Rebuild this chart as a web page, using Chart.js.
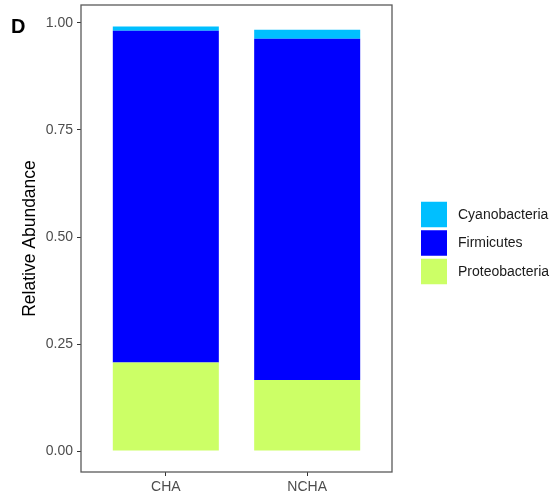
<!DOCTYPE html>
<html>
<head>
<meta charset="utf-8">
<script src="https://cdn.jsdelivr.net/npm/chart.js@4.4.1/dist/chart.umd.min.js"></script>
<style>
  html, body { margin: 0; padding: 0; background: #fff; }
  #chart-container { position: relative; width: 554px; height: 496px; }
</style>
</head>
<body>
<div id="chart-container"><canvas id="bar-chart"></canvas></div>
<script>
// samples on the x axis
var samples = ['CHA', 'NCHA'];

// relative abundance per phylum, one value per sample
var proteobacteria = [0.207, 0.166];
var firmicutes = [0.775, 0.797];
var cyanobacteria = [0.010, 0.021];

var yTicks = [0, 0.25, 0.5, 0.75, 1];

var FONT = "'Liberation Sans', Arial, sans-serif";

function toPoints(values) {
    return values.map(function (v, i) { return { x: i + 1, y: v }; });
}

// frame around the panel, legend on the right and the panel tag
var decorations = {
    id: 'decorations',
    afterDraw: function (chart) {
        var ctx = chart.ctx;
        var area = chart.chartArea;
        ctx.save();

        ctx.strokeStyle = '#5a5a5a';
        ctx.lineWidth = 1.3;
        ctx.strokeRect(area.left, area.top, area.right - area.left, area.bottom - area.top);

        // legend, top entry first (reverse of stacking order)
        var sets = chart.data.datasets.slice().reverse();
        var rowH = 28.5;
        var top = (area.top + area.bottom) / 2 + 4.5 - sets.length * rowH / 2;
        var boxX = area.right + 29;
        ctx.font = '14px ' + FONT;
        ctx.textBaseline = 'middle';
        ctx.textAlign = 'left';
        sets.forEach(function (ds, i) {
            var y = top + i * rowH + 1.5;
            ctx.fillStyle = ds.backgroundColor;
            ctx.fillRect(boxX, y, 26, 25.5);
            ctx.fillStyle = '#1a1a1a';
            ctx.fillText(ds.label, boxX + 37, y + 13);
        });

        ctx.fillStyle = '#000';
        ctx.font = 'bold 20px ' + FONT;
        ctx.textBaseline = 'alphabetic';
        ctx.fillText('D', 11, 33);
        ctx.restore();
    }
};

new Chart(document.querySelector('#bar-chart').getContext('2d'), {
    type: 'bar',
    data: {
        datasets: [
            { label: 'Proteobacteria', data: toPoints(proteobacteria), backgroundColor: '#CCFF66' },
            { label: 'Firmicutes', data: toPoints(firmicutes), backgroundColor: '#0000FF' },
            { label: 'Cyanobacteria', data: toPoints(cyanobacteria), backgroundColor: '#00BFFF' }
        ]
    },
    options: {
        responsive: true,
        maintainAspectRatio: false,
        animation: false,
        layout: { padding: { top: 5, right: 162, left: 0, bottom: 0 } },
        datasets: { bar: { barPercentage: 0.75, categoryPercentage: 1 } },
        plugins: { legend: { display: false }, tooltip: { enabled: false } },
        scales: {
            x: {
                type: 'linear',
                stacked: true,
                min: 0.4,
                max: 2.6,
                offset: false,
                border: { display: false },
                grid: { offset: false, drawOnChartArea: false, drawTicks: true, tickLength: 4, color: '#333' },
                afterBuildTicks: function (scale) {
                    scale.ticks = samples.map(function (s, i) { return { value: i + 1 }; });
                },
                afterFit: function (scale) {
                    scale.height = 24;
                    scale.paddingLeft = 0;
                    scale.paddingRight = 0;
                },
                ticks: {
                    padding: 3,
                    color: '#4d4d4d',
                    font: { family: FONT, size: 14 },
                    callback: function (value) { return samples[value - 1]; }
                }
            },
            y: {
                stacked: true,
                min: -0.049,
                max: 1.042,
                border: { display: false },
                grid: { drawOnChartArea: false, drawTicks: true, tickLength: 4, color: '#333' },
                afterBuildTicks: function (scale) {
                    scale.ticks = yTicks.map(function (v) { return { value: v }; });
                },
                afterFit: function (scale) {
                    scale.width = 81;
                    scale.paddingTop = 0;
                    scale.paddingBottom = 0;
                },
                ticks: {
                    padding: 4,
                    color: '#4d4d4d',
                    font: { family: FONT, size: 14 },
                    callback: function (value) { return Number(value).toFixed(2); }
                },
                title: {
                    display: true,
                    text: 'Relative Abundance',
                    color: '#000',
                    font: { family: FONT, size: 17.5 },
                    padding: { top: 20, bottom: 0 }
                }
            }
        }
    },
    plugins: [decorations]
});
</script>
</body>
</html>
